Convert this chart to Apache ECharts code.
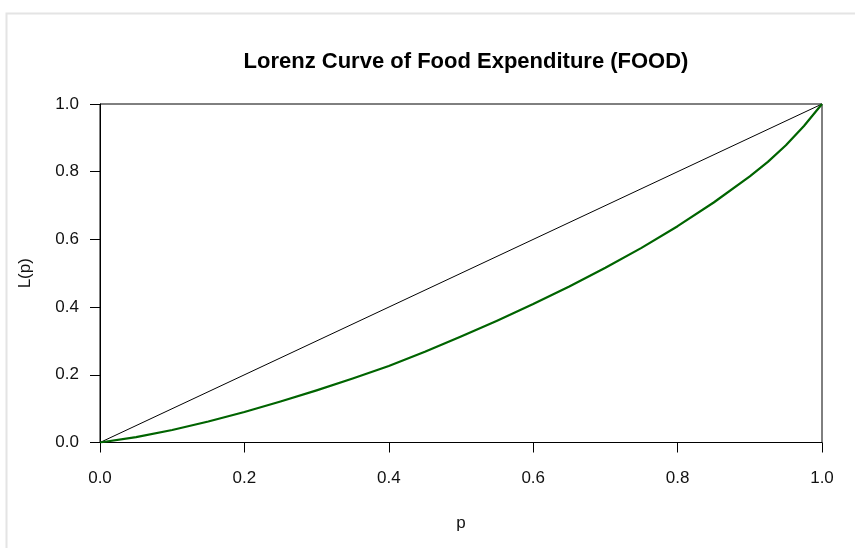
<!DOCTYPE html>
<html>
<head>
<meta charset="utf-8">
<script src="https://cdn.jsdelivr.net/npm/echarts@6/dist/echarts.min.js"></script>
<style>
  html, body { margin: 0; padding: 0; background: #ffffff; }
  #chart { width: 855px; height: 548px; }
</style>
</head>
<body>
<div id="chart"></div>
<script>
// Cumulative population share p and cumulative food-expenditure share L(p)
const pShare = [0, 0.05, 0.1, 0.15, 0.2, 0.25, 0.3, 0.35, 0.4, 0.45, 0.5,
                0.55, 0.6, 0.65, 0.7, 0.75, 0.8, 0.85, 0.9, 0.925, 0.95, 0.975, 1.0];
const lorenzShare = [0, 0.016, 0.037, 0.062, 0.090, 0.121, 0.154, 0.189, 0.226, 0.268, 0.313,
                     0.360, 0.409, 0.461, 0.516, 0.575, 0.639, 0.709, 0.786, 0.829, 0.878, 0.935, 1.0];
// Line of perfect equality
const equalityP = [0, 1];
const equalityL = [0, 1];
const tickValues = [0, 0.2, 0.4, 0.6, 0.8, 1.0];

const chart = echarts.init(document.getElementById('chart'), null, { renderer: 'canvas' });

const fontFamily = 'Liberation Sans, Arial, sans-serif';
const axisCommon = {
  type: 'value',
  min: tickValues[0],
  max: tickValues[tickValues.length - 1],
  interval: 0.2,
  splitLine: { show: false },
  axisLine: { show: true, lineStyle: { color: '#000', width: 1 } },
  axisTick: { show: true, length: 10, inside: false, lineStyle: { color: '#000', width: 1 } },
  nameLocation: 'middle',
  nameTextStyle: { color: '#111', fontSize: 17, fontFamily: fontFamily }
};

chart.setOption({
  animation: false,
  backgroundColor: '#ffffff',
  title: {
    text: 'Lorenz Curve of Food Expenditure (FOOD)',
    left: 461,
    textAlign: 'center',
    top: 46,
    textStyle: { fontFamily: fontFamily, fontWeight: 'bold', fontSize: 22, color: '#000' }
  },
  graphic: [{
    type: 'rect',
    shape: { x: 6.5, y: 13.5, width: 900, height: 600 },
    style: { fill: 'none', stroke: '#e4e4e4', lineWidth: 2 },
    silent: true
  }],
  grid: {
    left: 100, right: 33, top: 104, bottom: 105.5,
    show: true, borderColor: '#000', borderWidth: 1, backgroundColor: 'transparent'
  },
  xAxis: Object.assign({}, axisCommon, {
    name: 'p',
    nameGap: 72,
    axisLabel: {
      margin: 27, color: '#111', fontSize: 17, fontFamily: fontFamily,
      formatter: v => v.toFixed(1)
    }
  }),
  yAxis: Object.assign({}, axisCommon, {
    name: 'L(p)',
    nameGap: 66,
    axisLabel: {
      margin: 21, color: '#111', fontSize: 17, fontFamily: fontFamily,
      formatter: v => v.toFixed(1)
    }
  }),
  series: [
    {
      type: 'line',
      name: 'Equality',
      data: equalityP.map((p, i) => [p, equalityL[i]]),
      symbol: 'none',
      lineStyle: { color: '#000', width: 1 },
      z: 2
    },
    {
      type: 'line',
      name: 'Lorenz',
      data: pShare.map((p, i) => [p, lorenzShare[i]]),
      symbol: 'none',
      smooth: false,
      lineStyle: { color: '#006400', width: 2.2, join: 'round' },
      z: 3
    }
  ]
});
</script>
</body>
</html>
